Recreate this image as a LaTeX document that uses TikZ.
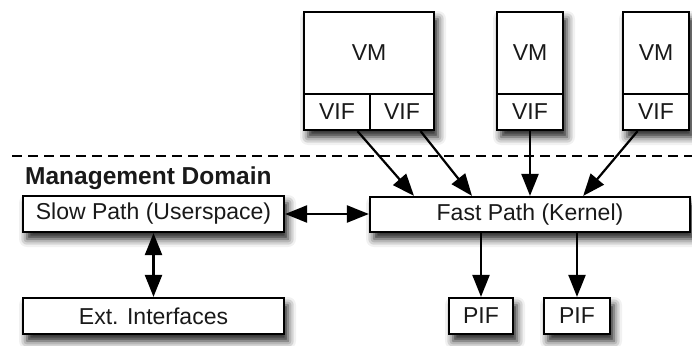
\documentclass[tikz,border=0pt]{standalone}
\usepackage{fontspec}
\setmainfont{Liberation Sans}
\usetikzlibrary{arrows.meta,calc,shadows.blur}
\begin{document}
\begin{tikzpicture}[x=1pt,y=-1pt,
  box/.style={draw=black, line width=2.2pt, fill=white, inner sep=0pt, font=\fontsize{23}{27}\selectfont, text=black!90},
  sh/.style={blur shadow={shadow xshift=4pt, shadow yshift=-7pt, shadow blur radius=8pt, shadow opacity=90}},
  conn/.style={line width=2.2pt, -{Triangle[length=22pt,width=17pt]}},
  biconn/.style={line width=2.2pt, {Triangle[length=22pt,width=17pt]}-{Triangle[length=22pt,width=17pt]}},
  lbl/.style={inner sep=0pt, font=\fontsize{23}{27}\selectfont, text=black!90},
  dline/.style={line width=1.6pt, dash pattern=on 10pt off 6pt}
]
\useasboundingbox (0,0) rectangle (692,345);

% dashed separator
\coordinate (dl) at (12,156);
\coordinate (dr) at (692,156);
\draw[dline] (dl) -- (dr);

% VMs
\node[box, sh, minimum width=130pt, minimum height=118pt] (vmA) at (369,71) {};
\node[lbl] (vmAl) at (369,53) {VM};
\node[box, minimum width=66pt, minimum height=36pt] (vifA1) at (337,112) {VIF};
\node[box, minimum width=64pt, minimum height=36pt] (vifA2) at (402,112) {VIF};

\node[box, sh, minimum width=66pt, minimum height=118pt] (vmB) at (530,71) {};
\node[lbl] (vmBl) at (530,53) {VM};
\node[box, minimum width=66pt, minimum height=36pt] (vifB) at (530,112) {VIF};

\node[box, sh, minimum width=66pt, minimum height=118pt] (vmC) at (656,71) {};
\node[lbl] (vmCl) at (656,53) {VM};
\node[box, minimum width=66pt, minimum height=36pt] (vifC) at (656,112) {VIF};

% management domain
\node[inner sep=0pt, anchor=west, font=\fontsize{24.5}{28}\selectfont\bfseries, text=black!90] (md) at (25,178) {Management Domain};

\node[box, sh, minimum width=261pt, minimum height=36pt] (slow) at (153.5,214) {Slow Path (Userspace)};
\node[box, sh, minimum width=320pt, minimum height=35pt] (fast) at (530,214.5) {Fast Path (Kernel)};
\node[box, sh, minimum width=261pt, minimum height=36pt] (ext) at (153.5,316) {Ext. Interfaces};
\node[box, sh, minimum width=64pt, minimum height=36pt] (pif1) at (481,316) {PIF};
\node[box, sh, minimum width=66pt, minimum height=36pt] (pif2) at (577,316) {PIF};

% connectors
\draw[conn] ($(vifA1.south west)!0.8!(vifA1.south east)$) -- ($(fast.north west)!0.14!(fast.north east)$);
\draw[conn] ($(vifA2.south west)!0.78!(vifA2.south east)$) -- ($(fast.north west)!0.32!(fast.north east)$);
\draw[conn] (vifB.south) -- (vifB.south |- fast.north);
\draw[conn] ($(vifC.south west)!0.23!(vifC.south east)$) -- ($(fast.north west)!0.665!(fast.north east)$);
\draw[biconn] (slow.east) -- (slow.east -| fast.west);
\draw[biconn] (slow.south) -- (ext.north);
\draw[conn] (pif1.north |- fast.south) -- (pif1.north);
\draw[conn] (pif2.north |- fast.south) -- (pif2.north);
\end{tikzpicture}
\end{document}
